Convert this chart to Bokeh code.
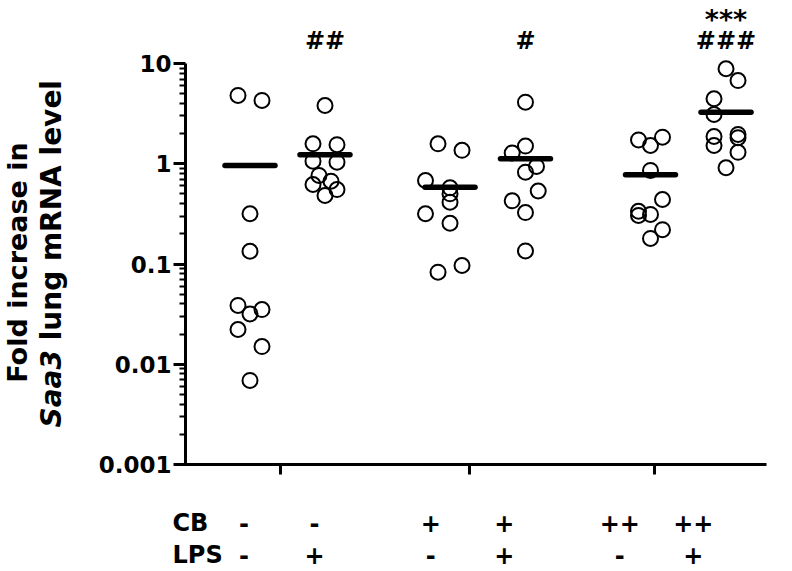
import math
from bokeh.plotting import figure
from bokeh.models import FixedTicker, Label, Range1d, ColumnDataSource, CustomJSTickFormatter
from bokeh.embed import file_html
from bokeh.resources import INLINE

# ---------------- data ----------------
group_x = [1.0, 2.0, 3.667, 4.673, 6.34, 7.347]

g1_vals = [4.8, 4.28, 0.317, 0.134, 0.0386, 0.0351, 0.0318, 0.0222, 0.0150, 0.00689]
g1_jit = [-0.16, 0.16, 0, 0, -0.16, 0.16, 0, -0.16, 0.16, 0]
g2_vals = [3.81, 1.58, 1.55, 1.06, 1.036, 0.764, 0.670, 0.621, 0.553, 0.482]
g2_jit = [0, -0.16, 0.16, -0.16, 0.16, -0.08, 0.08, -0.16, 0.16, 0]
g3_vals = [1.58, 1.36, 0.681, 0.575, 0.501, 0.413, 0.317, 0.255, 0.0966, 0.0828]
g3_jit = [-0.16, 0.16, -0.327, 0, 0, 0, -0.327, 0, 0.16, -0.16]
g4_vals = [4.11, 1.50, 1.28, 0.94, 0.824, 0.535, 0.427, 0.326, 0.135]
g4_jit = [0, 0, -0.177, 0.147, 0, 0.17, -0.177, 0, 0]
g5_vals = [1.84, 1.73, 1.52, 0.857, 0.44, 0.336, 0.312, 0.305, 0.22, 0.18]
g5_jit = [0.16, -0.16, 0, 0, 0.16, -0.16, 0, -0.16, 0.16, 0]
g6_vals = [8.86, 6.76, 4.45, 3.10, 1.96, 1.87, 1.82, 1.52, 1.30, 0.912]
g6_jit = [0, 0.16, -0.16, -0.16, 0.16, -0.16, 0.16, -0.16, 0.16, 0]

group_means = [0.96, 1.23, 0.583, 1.12, 0.776, 3.27]

y_ticks = [0.001, 0.01, 0.1, 1, 10]
y_tick_labels = ["0.001", "0.01", "0.1", "1", "10"]
x_ticks = [1.407, 3.927, 6.393]

cb_labels = ["-", "-", "+", "+", "++", "++"]
lps_labels = ["-", "+", "-", "+", "-", "+"]
row_label_x = [0.92, 1.86, 3.41, 4.39, 5.93, 6.91]
row_names = ["CB", "LPS"]

sig_hash = ["", "##", "", "#", "", "###"]
sig_star = ["", "", "", "", "", "***"]

y_title_1 = "Fold increase in"
y_title_2a = "Saa3"
y_title_2b = "lung mRNA level"

# ---------------- layout (frame = whole canvas; axes placed inside) ----------------
W, H = 792, 571
PXU = 75.0            # px per x unit
XS = 1 - 249.5 / PXU  # x value at left canvas edge
DEC = 100.25          # px per decade
AX_LEFT, AX_TOP, AX_BOTTOM = 185, 63, 464

def xd(px):
    return XS + px / PXU

def yd(py):
    return 10 ** (1 - (py - AX_TOP) / DEC)

FONT = "DejaVu Sans"

p = figure(width=W, height=H, y_axis_type="log",
           x_range=Range1d(xd(0), xd(W)), y_range=Range1d(yd(H), yd(0)),
           output_backend="svg", toolbar_location=None,
           min_border_left=0, min_border_right=0,
           min_border_top=0, min_border_bottom=0)
p.title.visible = False
p.outline_line_color = None
p.grid.visible = False
p.background_fill_color = "white"
p.border_fill_color = "white"

# points
all_vals = [g1_vals, g2_vals, g3_vals, g4_vals, g5_vals, g6_vals]
all_jit = [g1_jit, g2_jit, g3_jit, g4_jit, g5_jit, g6_jit]
xs, ys = [], []
for gx, vals, jit in zip(group_x, all_vals, all_jit):
    for v, j in zip(vals, jit):
        xs.append(gx + j)
        ys.append(v)
src = ColumnDataSource(dict(x=xs, y=ys))
p.scatter("x", "y", source=src, marker="circle", size=15, fill_alpha=0,
          line_color="black", line_width=2)

# mean bars
half = 25 / PXU
msrc = ColumnDataSource(dict(x0=[g - half for g in group_x], x1=[g + half for g in group_x],
                             y=group_means))
p.segment(x0="x0", x1="x1", y0="y", y1="y", source=msrc, line_color="black",
          line_width=5.5, line_cap="round")

# y axis
ya = p.yaxis[0]
ya.fixed_location = xd(AX_LEFT)
ya.bounds = (y_ticks[0], y_ticks[-1])
ya.ticker = FixedTicker(ticks=y_ticks,
                        minor_ticks=[k * 10 ** d for d in range(-3, 1) for k in range(2, 10)])
ya.formatter = CustomJSTickFormatter(args=dict(yt=y_ticks, yl=y_tick_labels), code="""
    for (let i = 0; i < yt.length; i++) {
        if (Math.abs(Math.log10(yt[i]) - Math.log10(tick)) < 1e-6) return yl[i];
    }
    return '';
""")
ya.axis_line_width = 3
ya.major_tick_line_width = 3
ya.major_tick_out = 12
ya.major_tick_in = 0
ya.minor_tick_out = 6
ya.minor_tick_in = 0
ya.minor_tick_line_width = 2
ya.major_label_text_font = FONT
ya.major_label_text_font_style = "bold"
ya.major_label_text_font_size = "23px"
ya.major_label_text_color = "black"
ya.major_label_standoff = 2

# x axis
xa = p.xaxis[0]
xa.fixed_location = y_ticks[0]
xa.bounds = (xd(174), xd(766))
xa.ticker = FixedTicker(ticks=x_ticks)
xa.formatter = CustomJSTickFormatter(code="return '';")
xa.axis_line_width = 3
xa.major_tick_line_width = 3
xa.major_tick_out = 10
xa.major_tick_in = 0
xa.minor_tick_line_color = None

# y title
p.add_layout(Label(x=xd(17), y=yd(262), text=y_title_1, angle=math.pi / 2,
                   text_font=FONT, text_font_style="bold", text_font_size="27px",
                   text_align="center", text_baseline="middle", text_color="black"))
t2_size = 28
p.add_layout(Label(x=xd(51), y=yd(427), text=y_title_2a, angle=math.pi / 2,
                   text_font=FONT, text_font_style="bold italic", text_font_size=f"{t2_size}px",
                   text_align="left", text_baseline="middle", text_color="black"))
p.add_layout(Label(x=xd(51), y=yd(427 - 2.766 * t2_size - 0.348 * t2_size), text=y_title_2b,
                   angle=math.pi / 2,
                   text_font=FONT, text_font_style="bold", text_font_size=f"{t2_size}px",
                   text_align="left", text_baseline="middle", text_color="black"))

# significance marks
for gx, h, s in zip(group_x, sig_hash, sig_star):
    if h:
        p.add_layout(Label(x=gx, y=yd(40), text=h, text_font=FONT, text_font_style="bold",
                           text_font_size="24px", text_align="center",
                           text_baseline="middle", text_color="black"))
    if s:
        p.add_layout(Label(x=gx, y=yd(19), text=s, text_font=FONT, text_font_style="bold",
                           text_font_size="27px", text_align="center",
                           text_baseline="middle", text_color="black"))

# CB / LPS rows
row_y = [522, 554]
for name, ry in zip(row_names, row_y):
    p.add_layout(Label(x=xd(172), y=yd(ry), text=name, text_font=FONT, text_font_style="bold",
                       text_font_size="24px", text_align="left", text_baseline="middle",
                       text_color="black"))
for lx, c, l in zip(row_label_x, cb_labels, lps_labels):
    p.add_layout(Label(x=lx, y=yd(row_y[0]), text=c, text_font=FONT, text_font_style="bold",
                       text_font_size="24px", text_align="center", text_baseline="middle",
                       text_color="black"))
    p.add_layout(Label(x=lx, y=yd(row_y[1]), text=l, text_font=FONT, text_font_style="bold",
                       text_font_size="24px", text_align="center", text_baseline="middle",
                       text_color="black"))

open("out.html", "w").write(file_html(p, INLINE))
